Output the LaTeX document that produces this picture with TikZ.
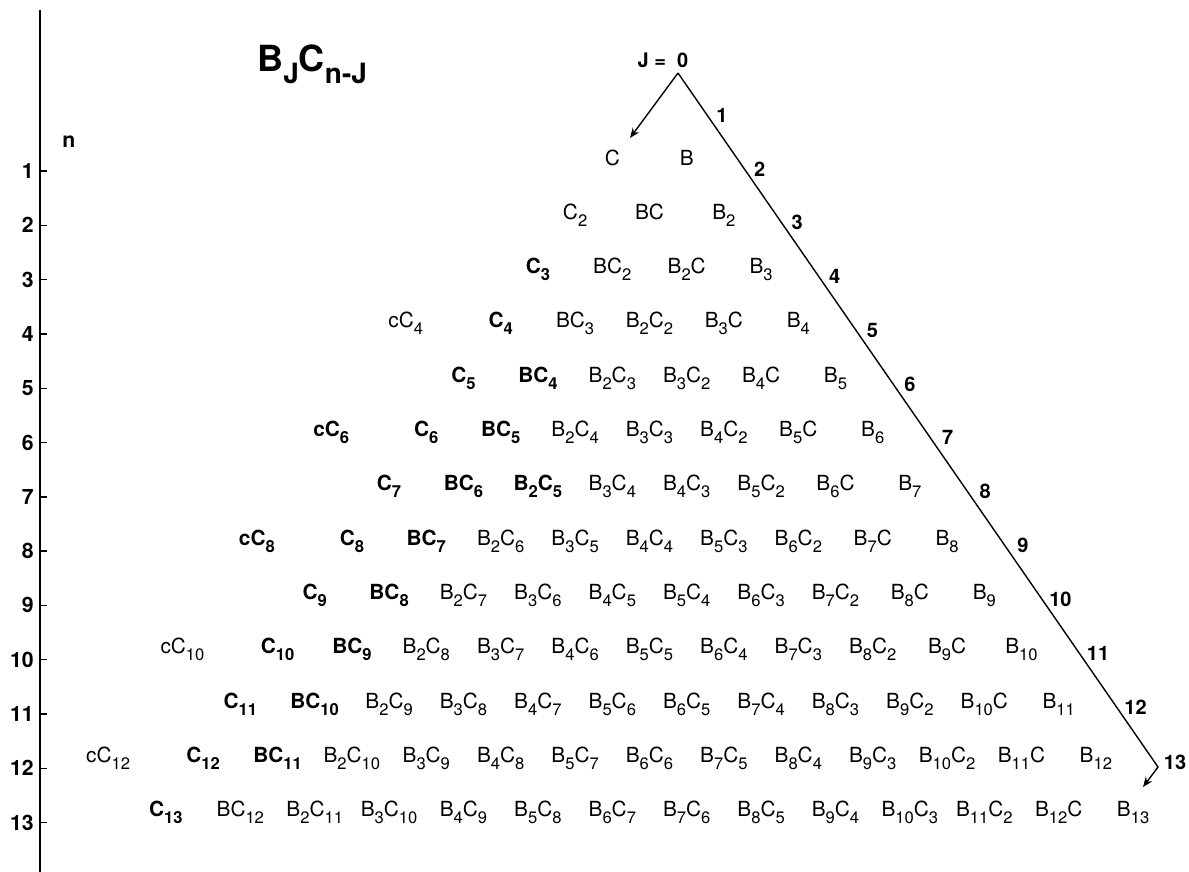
\documentclass[tikz,border=0pt]{standalone}
\usepackage{fontspec}
\setmainfont{TeX Gyre Heros}
\usetikzlibrary{arrows.meta}
% lowered index and cluster label B_j C_k
\newcommand{\lowidx}[1]{\raisebox{-3.5pt}{\fontsize{8.3}{9}\selectfont #1}}
\newcommand{\clname}[2]{\ifnum#1>0 B\ifnum#1>1 \lowidx{#1}\fi\fi\ifnum#2>0 C\ifnum#2>1 \lowidx{#2}\fi\fi}
\begin{document}
\begin{tikzpicture}[x=0.5pt,y=-0.5pt,
    cluster/.style={anchor=base,inner sep=0pt,font=\fontsize{10.4}{12}\selectfont},
    rowno/.style={anchor=east,inner sep=0pt,font=\fontsize{10.6}{12}\selectfont\bfseries},
    jno/.style={inner sep=0pt,font=\fontsize{10}{12}\selectfont\bfseries},
    guide/.style={line width=0.7pt}]
\useasboundingbox (0,0) rectangle (1189,872);
% n axis
\draw[line width=0.9pt] (40,10) -- (40,872);
\node[rowno,anchor=base west] (nlab) at (62,148) {n};
\foreach \n in {1,...,13}{
  \pgfmathsetmacro\ty{171+(\n-1)*54.3}
  \draw[line width=0.7pt] (40,\ty) -- (47,\ty);
  \node[rowno] (tick\n) at (34,\ty) {\n};
}
% title
\node[anchor=base west,inner sep=0pt,font=\fontsize{18}{20}\selectfont\bfseries] (title) at (257,72)
  {B\raisebox{-6pt}{\fontsize{14}{14}\selectfont J}C\raisebox{-6pt}{\fontsize{14}{14}\selectfont n-J}};
% J guide
\node[jno,anchor=base] (jzero) at (663,68) {J =\ \ 0};
\coordinate (apex) at (678,73);
\coordinate (cend) at (630,138);
\coordinate (bend) at (1158,767);
\coordinate (bend2) at (1143,787);
\draw[guide,-{Stealth[length=5pt,width=4pt]}] (apex) -- (cend);
\draw[guide,-{Stealth[length=5pt,width=4pt]}] (apex) -- (bend) -- (bend2);
\foreach \k in {1,...,12}
  \node[jno] (j\k) at ({722+(\k-1)*37.6},{115+(\k-1)*53.8}) {\k};
\node[jno] (j13) at (1175,762) {13};
% clusters
\foreach \n in {1,...,13}{
  \foreach \j in {0,...,\n}{
    \pgfmathtruncatemacro\k{\n-\j}
    \pgfmathtruncatemacro\isbold{((\j==0)&&(\n>2))||((\j==1)&&(\n>4)&&(\n<13))||((\n==7)&&(\j==2))}
    \ifnum\isbold=1 \def\wt{\bfseries}\else\def\wt{}\fi
    \node[cluster] (s\n-\j) at ({649.5+(\j-\n/2)*74.4},{165+(\n-1)*54.3}) {\wt\clname{\j}{\k}};
  }
}
\foreach \n in {4,6,8,10,12}{
  \ifnum\n=6 \def\wt{\bfseries}\else\ifnum\n=8 \def\wt{\bfseries}\else\def\wt{}\fi\fi
  \node[cluster] (cc\n) at ({649.5-\n/2*74.4-95},{165+(\n-1)*54.3}) {\wt cC\lowidx{\n}};
}
\end{tikzpicture}
\end{document}
